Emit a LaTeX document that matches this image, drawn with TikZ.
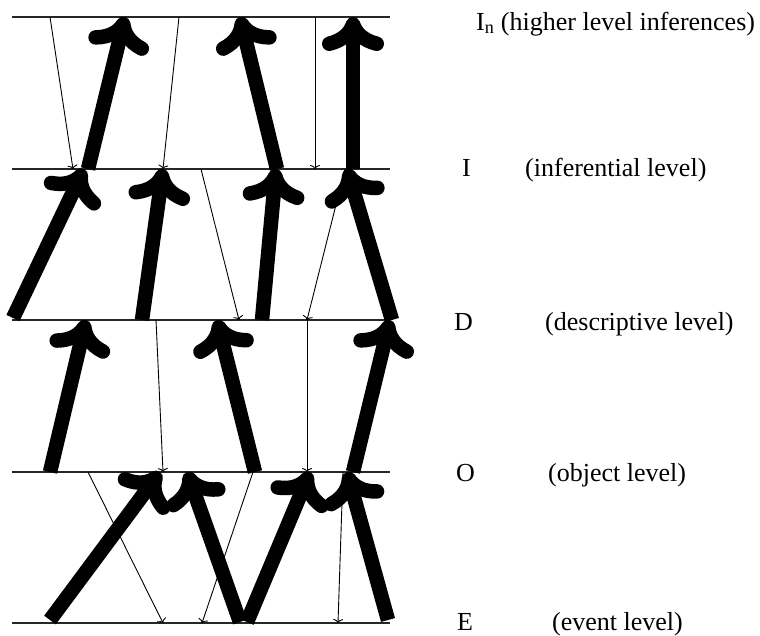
\documentclass[tikz,border=0pt]{standalone}
\usepackage{fontspec}
\setmainfont{Liberation Serif}
\usetikzlibrary{arrows.meta}

\tikzset{
  level line/.style={line width=1.3pt, black!85},
  upward/.style={line width=14.5pt, -{To[length=34pt,width=62pt,round]}},
  downward/.style={line width=0.9pt, -{To[length=4pt,width=10pt]}},
  lvl/.style={anchor=base west, inner sep=0pt, font=\fontsize{26}{30}\selectfont},
}

\begin{document}
\begin{tikzpicture}[x=1pt,y=-1pt]
\useasboundingbox (0,0) rectangle (760,635);

% level boundaries
\foreach \name/\yy in {In/17, I/169, D/320, O/472, E/623} {
  \coordinate (\name-l) at (12,\yy);
  \coordinate (\name-r) at (390,\yy);
  \draw[level line] (\name-l) -- (\name-r);
}

% ---- I -> I_n ----
\coordinate (a1) at (88,169);  \coordinate (b1) at (125,17);
\coordinate (a2) at (277,169); \coordinate (b2) at (240,17);
\coordinate (a3) at (353,169); \coordinate (b3) at (353,17);
\draw[upward] (a1) -- (b1);
\draw[upward] (a2) -- (b2);
\draw[upward] (a3) -- (b3);
\coordinate (c1) at (50,17);  \coordinate (d1) at (73,169);
\coordinate (c2) at (179,17); \coordinate (d2) at (163,169);
\coordinate (c3) at (315,17); \coordinate (d3) at (315,169);
\draw[downward] (c1) -- (d1);
\draw[downward] (c2) -- (d2);
\draw[downward] (c3) -- (d3);

% ---- D -> I ----
\coordinate (a4) at (13,318);  \coordinate (b4) at (84,169);
\coordinate (a5) at (142,320); \coordinate (b5) at (163,169);
\coordinate (a6) at (262,320); \coordinate (b6) at (276,169);
\coordinate (a7) at (392,320); \coordinate (b7) at (347,169);
\draw[upward] (a4) -- (b4);
\draw[upward] (a5) -- (b5);
\draw[upward] (a6) -- (b6);
\draw[upward] (a7) -- (b7);
\coordinate (c4) at (201,169); \coordinate (d4) at (239,320);
\coordinate (c5) at (345,169); \coordinate (d5) at (307,320);
\draw[downward] (c4) -- (d4);
\draw[downward] (c5) -- (d5);

% ---- O -> D ----
\coordinate (a8) at (50,472);   \coordinate (b8) at (86,320);
\coordinate (a9) at (255,472);  \coordinate (b9) at (217,320);
\coordinate (a10) at (353,472); \coordinate (b10) at (390,320);
\draw[upward] (a8) -- (b8);
\draw[upward] (a9) -- (b9);
\draw[upward] (a10) -- (b10);
\coordinate (c6) at (156,320); \coordinate (d6) at (163,472);
\coordinate (c7) at (307,320); \coordinate (d7) at (307,472);
\draw[downward] (c6) -- (d6);
\draw[downward] (c7) -- (d7);

% ---- E -> O ----
\coordinate (a11) at (50,620);  \coordinate (b11) at (160,472);
\coordinate (a12) at (240,622); \coordinate (b12) at (187,472);
\coordinate (a13) at (247,622); \coordinate (b13) at (310,472);
\coordinate (a14) at (388,620); \coordinate (b14) at (347,472);
\draw[upward] (a11) -- (b11);
\draw[upward] (a12) -- (b12);
\draw[upward] (a13) -- (b13);
\draw[upward] (a14) -- (b14);
\coordinate (c8) at (88,472);   \coordinate (d8) at (163,623);
\coordinate (c9) at (253,472);  \coordinate (d9) at (202,623);
\coordinate (c10) at (343,472); \coordinate (d10) at (338,623);
\draw[downward] (c8) -- (d8);
\draw[downward] (c9) -- (d9);
\draw[downward] (c10) -- (d10);

% level names
\node[lvl] (tIn) at (476,30) {I\textsubscript{n} (higher level inferences)};
\node[lvl] (tI)  at (462,176) {I};
\node[lvl] (nI)  at (525,176) {(inferential level)};
\node[lvl] (tD)  at (454,330) {D};
\node[lvl] (nD)  at (545,330) {(descriptive level)};
\node[lvl] (tO)  at (456,481) {O};
\node[lvl] (nO)  at (548,481) {(object level)};
\node[lvl] (tE)  at (457,630) {E};
\node[lvl] (nE)  at (552,630) {(event level)};
\end{tikzpicture}
\end{document}
